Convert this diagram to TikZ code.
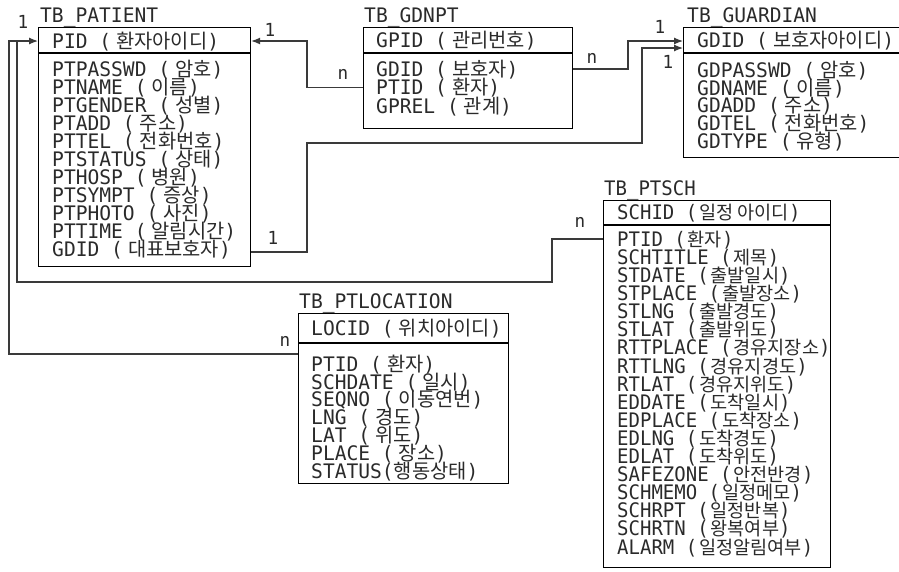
\documentclass[tikz,border=0pt]{standalone}
\usepackage{fontspec}
\newfontfamily\mono[FakeStretch=0.98]{DejaVu Sans Mono}
\newfontfamily\monoS[FakeStretch=0.95]{DejaVu Sans Mono}
\newfontfamily\krfont{Noto Sans CJK KR}
\usetikzlibrary{arrows.meta,calc}
\newcommand\fld[2]{#1 (\kern5pt{\krfont\fontsize{19.8}{18}\selectfont #2})}
\newcommand\fldS[2]{#1 (\kern2pt{\krfont\fontsize{18.6}{18}\selectfont #2})}
\newcommand\rowsize{\fontsize{20}{20}\selectfont}
\definecolor{ink}{HTML}{2A2A2A}
\definecolor{wire}{HTML}{3A3A3A}
\begin{document}
\begin{tikzpicture}[x=1pt,y=-1pt,
  tbl/.style={draw=black, line width=1.2pt, inner sep=0pt, anchor=north west},
  sepline/.style={draw=black, line width=1.2pt},
  txt/.style={anchor=west, inner sep=0pt, text height=15.6pt, text depth=1pt, font=\mono\rowsize, text=ink},
  txtS/.style={txt, font=\monoS\rowsize},
  card/.style={inner sep=0pt, font=\mono\fontsize{18}{18}\selectfont, text=ink},
  link/.style={draw=wire, line width=1.2pt},
  arr/.style={link, -{Latex[length=9pt,width=7pt]}},
]
\useasboundingbox (0,0) rectangle (899,571);
\clip (0,0) rectangle (899,571);

% ---------- TB_PATIENT ----------
\node[txt] (pattitle) at (40,15) {TB\_PATIENT};
\node[tbl, minimum width=212pt, minimum height=239pt] (patbox) at (38,27) {};
\draw[sepline] ($(patbox.north west)+(0,26)$) -- ($(patbox.north east)+(0,26)$);
\node[txt] (pathd) at (52,41) {\fld{PID}{환자아이디}};
\foreach \t [count=\i from 0] in {{\fld{PTPASSWD}{암호}},{\fld{PTNAME}{이름}},{\fld{PTGENDER}{성별}},{\fld{PTADD}{주소}},{\fld{PTTEL}{전화번호}},{\fld{PTSTATUS}{상태}},{\fld{PTHOSP}{병원}},{\fld{PTSYMPT}{증상}},{\fld{PTPHOTO}{사진}},{\fld{PTTIME}{알림시간}},{\fld{GDID}{대표보호자}}}
  \node[txt] (pat-\i) at (52,69+18*\i) {\t};

% ---------- TB_GDNPT ----------
\node[txt] (gdtitle) at (364,15) {TB\_GDNPT};
\node[tbl, minimum width=209pt, minimum height=101pt] (gdbox) at (363,27) {};
\draw[sepline] ($(gdbox.north west)+(0,26)$) -- ($(gdbox.north east)+(0,26)$);
\node[txt] (gdhd) at (376,40) {\fld{GPID}{관리번호}};
\foreach \t [count=\i from 0] in {{\fld{GDID}{보호자}},{\fld{PTID}{환자}},{\fld{GPREL}{관계}}}
  \node[txt] (gd-\i) at (376,69+18.5*\i) {\t};

% ---------- TB_GUARDIAN ----------
\node[txt] (guatitle) at (687,15) {TB\_GUARDIAN};
\node[tbl, minimum width=222pt, minimum height=130pt] (guabox) at (683,27) {};
\draw[sepline] ($(guabox.north west)+(0,26)$) -- ($(guabox.north east)+(0,26)$);
\node[txt] (guahd) at (697,40) {\fld{GDID}{보호자아이디}};
\foreach \t [count=\i from 0] in {{\fld{GDPASSWD}{암호}},{\fld{GDNAME}{이름}},{\fld{GDADD}{주소}},{\fld{GDTEL}{전화번호}},{\fld{GDTYPE}{유형}}}
  \node[txt] (gua-\i) at (697,70+17.8*\i) {\t};

% ---------- TB_PTSCH ----------
\node[txtS] (schtitle) at (604,188) {TB\_PTSCH};
\node[tbl, minimum width=227pt, minimum height=367pt] (schbox) at (603,200) {};
\draw[sepline] ($(schbox.north west)+(0,25)$) -- ($(schbox.north east)+(0,25)$);
\node[txtS] (schhd) at (617,212) {\fldS{SCHID}{일정 아이디}};
\foreach \t [count=\i from 0] in {{\fldS{PTID}{환자}},{\fldS{SCHTITLE}{제목}},{\fldS{STDATE}{출발일시}},{\fldS{STPLACE}{출발장소}},{\fldS{STLNG}{출발경도}},{\fldS{STLAT}{출발위도}},{\fldS{RTTPLACE}{경유지장소}},{\fldS{RTTLNG}{경유지경도}},{\fldS{RTLAT}{경유지위도}},{\fldS{EDDATE}{도착일시}},{\fldS{EDPLACE}{도착장소}},{\fldS{EDLNG}{도착경도}},{\fldS{EDLAT}{도착위도}},{\fldS{SAFEZONE}{안전반경}},{\fldS{SCHMEMO}{일정메모}},{\fldS{SCHRPT}{일정반복}},{\fldS{SCHRTN}{왕복여부}},{\fldS{ALARM}{일정알림여부}}}
  \node[txtS] (sch-\i) at (617,239+18.1*\i) {\t};

% ---------- TB_PTLOCATION ----------
\node[txt] (loctitle) at (299,301) {TB\_PTLOCATION};
\node[tbl, minimum width=210pt, minimum height=170pt] (locbox) at (298,313) {};
\draw[sepline] ($(locbox.north west)+(0,30)$) -- ($(locbox.north east)+(0,30)$);
\node[txt] (lochd) at (311,328) {\fld{LOCID}{위치아이디}};
\foreach \t [count=\i from 0] in {{\fld{PTID}{환자}},{\fld{SCHDATE}{일시}},{\fld{SEQNO}{이동연번}},{\fld{LNG}{경도}},{\fld{LAT}{위도}},{\fld{PLACE}{장소}},{STATUS({\krfont\fontsize{19.8}{18}\selectfont 행동상태})}}
  \node[txt] (loc-\i) at (311,364+17.8*\i) {\t};

% ---------- connectors ----------
% PTLOCATION -> PATIENT (outer left line)
\draw[arr] ($(locbox.north west)+(0,41)$) -| (9,41) -- (patbox.west |- pathd);
% PTSCH -> PATIENT (inner left line)
\coordinate (schbend) at (552,282);
\draw[link] (schbox.west |- sch-0) -| (schbend) -| (17,41);
% GDNPT PTID -> PATIENT PID
\draw[arr] (gdbox.west |- gd-1) -| (307,41) -- (patbox.east |- pathd);
% GDNPT GDID -> GUARDIAN
\draw[arr] (gdbox.east |- gd-0) -| (628,41) -- ($(guabox.north west)+(0,14)$);
% PATIENT GDID -> GUARDIAN
\draw[arr] ($(patbox.east |- pat-10)+(0,3)$) -| (307,143) -| (642,48) -- ($(guabox.north west)+(0,21)$);

% ---------- cardinalities ----------
\node[card] (c1) at (23,22) {1};
\node[card] (c2) at (270,30) {1};
\node[card] (c3) at (343,74) {n};
\node[card] (c4) at (592,58) {n};
\node[card] (c5) at (660,27) {1};
\node[card] (c6) at (668,62) {1};
\node[card] (c7) at (273,238) {1};
\node[card] (c8) at (580,222) {n};
\node[card] (c9) at (285,341) {n};
\end{tikzpicture}
\end{document}
